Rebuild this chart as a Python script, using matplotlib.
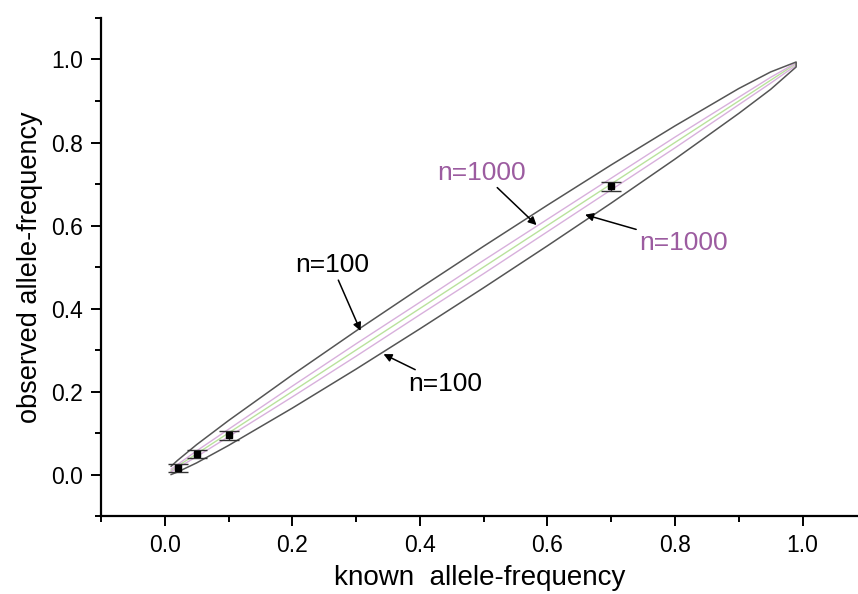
import numpy as np
import matplotlib
matplotlib.use("Agg")
import matplotlib.pyplot as plt
from matplotlib.ticker import MultipleLocator

plt.rcParams["font.family"] = ["Liberation Sans", "DejaVu Sans"]

# known allele frequency grid and the observed-frequency envelopes
known = [0.01, 0.02, 0.05, 0.10, 0.20, 0.30, 0.40, 0.50, 0.60, 0.70, 0.80, 0.90, 0.95, 0.99]
upper_100 = [0.020, 0.034, 0.072, 0.130, 0.240, 0.346, 0.449, 0.550, 0.649, 0.746, 0.840, 0.930, 0.970, 0.994]
lower_100 = [0.000, 0.006, 0.028, 0.070, 0.160, 0.254, 0.351, 0.450, 0.551, 0.654, 0.760, 0.870, 0.928, 0.982]
upper_1000 = [0.013, 0.024, 0.057, 0.109, 0.213, 0.315, 0.415, 0.516, 0.615, 0.714, 0.813, 0.909, 0.957, 0.992]
lower_1000 = [0.007, 0.016, 0.043, 0.091, 0.187, 0.285, 0.385, 0.484, 0.585, 0.686, 0.787, 0.891, 0.943, 0.986]

# measured pools
pool_known = [0.02, 0.05, 0.10, 0.70]
pool_observed = [0.016, 0.049, 0.094, 0.695]
pool_err = [0.010, 0.010, 0.011, 0.011]

fig = plt.figure(figsize=(8.58, 5.94), dpi=100)
ax = fig.add_axes([0.1177, 0.1313, 0.8823, 0.8384])

# expected line
ax.plot(known, known, color="#b9e29c", lw=1.0, zorder=2)

# n=1000 envelope
ax.plot(known, upper_1000, color="#d8b0dc", lw=1.0, zorder=2)
ax.plot(known, lower_1000, color="#d8b0dc", lw=1.0, zorder=2)

# n=100 envelope, joined at the high-frequency tip
env_x = known + known[::-1]
env_y = upper_100 + lower_100[::-1]
ax.plot(env_x, env_y, color="#555555", lw=1.1, zorder=3)

ax.errorbar(pool_known, pool_observed, yerr=pool_err, fmt="s", color="black",
            ms=4.5, ecolor="#333333", elinewidth=1.0, capsize=7, capthick=1.0, zorder=4)

arrow = dict(arrowstyle="-|>", color="black", lw=1.1, mutation_scale=12, shrinkA=0, shrinkB=0)
ax.annotate("n=100", xy=(0.307, 0.346), xytext=(0.262, 0.504), fontsize=19,
            ha="center", va="center", arrowprops=arrow)
ax.annotate("n=100", xy=(0.343, 0.290), xytext=(0.440, 0.217), fontsize=19,
            ha="center", va="center", arrowprops=arrow)
ax.annotate("n=1000", xy=(0.583, 0.601), xytext=(0.497, 0.727), fontsize=19,
            color="#9c5ca0", ha="center", va="center", arrowprops=arrow)
ax.annotate("n=1000", xy=(0.659, 0.626), xytext=(0.813, 0.558), fontsize=19,
            color="#9c5ca0", ha="center", va="center", arrowprops=arrow)

ax.set_xlim(-0.1, 1.087)
ax.set_ylim(-0.1, 1.1)
ax.xaxis.set_major_locator(MultipleLocator(0.2))
ax.xaxis.set_minor_locator(MultipleLocator(0.1))
ax.yaxis.set_major_locator(MultipleLocator(0.2))
ax.yaxis.set_minor_locator(MultipleLocator(0.1))
ax.set_xticks([0.0, 0.2, 0.4, 0.6, 0.8, 1.0])
ax.set_yticks([0.0, 0.2, 0.4, 0.6, 0.8, 1.0])
ax.tick_params(which="major", direction="out", length=7, width=1.4, labelsize=16.5, pad=6)
ax.tick_params(which="minor", direction="out", length=4.5, width=1.4)

for side in ("top", "right"):
    ax.spines[side].set_visible(False)
for side in ("left", "bottom"):
    ax.spines[side].set_linewidth(1.6)

ax.set_xlabel("known  allele-frequency", fontsize=20, labelpad=6)
ax.set_ylabel("observed allele-frequency", fontsize=19.5, labelpad=6)

fig.savefig("out.png", dpi=100)
